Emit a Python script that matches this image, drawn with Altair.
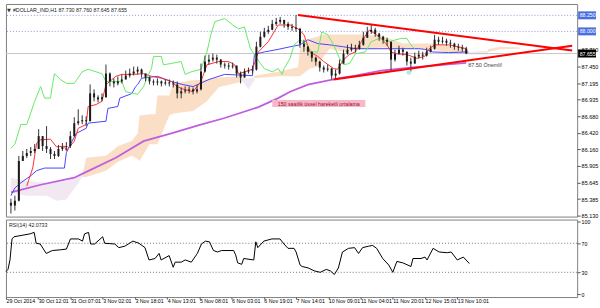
import altair as alt
import pandas as pd

# ---------------- data ----------------
# candles: one every second H1 bar (bar index = 2*k)
close = [85.285, 85.362, 85.981, 86.059, 86.105, 86.136, 86.167, 86.368, 86.213, 86.167,
         86.090, 86.059, 86.167, 86.198, 86.213, 86.368, 86.569, 86.600, 86.616, 86.600,
         87.034, 86.972, 86.941, 86.972, 87.343, 87.220, 87.189, 87.220, 87.251, 87.312,
         87.343, 87.374, 87.405, 87.343, 87.281, 87.220, 87.204, 87.220, 87.189, 87.204,
         87.189, 87.173, 87.034, 87.065, 87.080, 87.096, 87.065, 87.096, 87.374, 87.529,
         87.560, 87.591, 87.560, 87.483, 87.467, 87.452, 87.467, 87.343, 87.281, 87.374,
         87.390, 87.405, 87.761, 87.916, 87.994, 88.025, 88.117, 88.148, 88.179, 88.117,
         88.071, 88.056, 88.040, 87.808, 87.761, 87.684, 87.591, 87.529, 87.436, 87.405,
         87.421, 87.312, 87.343, 87.498, 87.653, 87.715, 87.746, 87.730, 87.792, 87.901,
         87.994, 88.025, 87.963, 87.916, 87.870, 87.839, 87.560, 87.653, 87.715, 87.684,
         87.529, 87.498, 87.607, 87.638, 87.622, 87.684, 87.730, 87.870, 87.839, 87.854,
         87.823, 87.808, 87.761, 87.746, 87.730, 87.655]
high = [85.393, 85.439, 86.059, 86.136, 86.167, 86.198, 86.244, 86.477, 86.368, 86.523,
        86.198, 86.136, 86.229, 86.260, 86.275, 86.446, 86.662, 86.786, 86.693, 86.678,
        87.173, 87.096, 87.003, 87.034, 87.483, 87.360, 87.266, 87.297, 87.328, 87.390,
        87.421, 87.452, 87.452, 87.421, 87.343, 87.297, 87.251, 87.266, 87.235, 87.251,
        87.251, 87.235, 87.220, 87.127, 87.142, 87.142, 87.127, 87.158, 87.498, 87.622,
        87.638, 87.653, 87.638, 87.570, 87.514, 87.514, 87.514, 87.467, 87.374, 87.421,
        87.436, 87.467, 87.839, 87.994, 88.056, 88.087, 88.179, 88.210, 88.226, 88.179,
        88.148, 88.117, 88.257, 88.056, 87.870, 87.777, 87.684, 87.607, 87.540, 87.467,
        87.483, 87.430, 87.405, 87.560, 87.715, 87.792, 87.808, 87.792, 87.854, 87.994,
        88.071, 88.102, 88.056, 87.978, 87.932, 87.901, 87.839, 87.715, 87.777, 87.746,
        87.684, 87.591, 87.669, 87.700, 87.684, 87.746, 87.777, 87.947, 87.916, 87.916,
        87.885, 87.870, 87.823, 87.808, 87.792, 87.760]
low = [85.161, 85.207, 85.350, 85.981, 86.028, 86.059, 86.105, 86.167, 86.136, 86.105,
       86.012, 86.012, 86.043, 86.136, 86.151, 86.182, 86.360, 86.539, 86.554, 86.523,
       86.600, 86.910, 86.895, 86.910, 86.972, 87.142, 87.127, 87.158, 87.189, 87.251,
       87.281, 87.312, 87.328, 87.281, 87.220, 87.173, 87.158, 87.158, 87.142, 87.158,
       87.142, 87.127, 86.956, 86.956, 87.034, 87.034, 87.018, 87.034, 87.080, 87.360,
       87.483, 87.529, 87.498, 87.436, 87.421, 87.405, 87.421, 87.281, 87.189, 87.281,
       87.343, 87.343, 87.390, 87.750, 87.901, 87.963, 88.020, 88.087, 88.117, 88.056,
       88.025, 88.009, 87.994, 87.746, 87.684, 87.622, 87.529, 87.467, 87.374, 87.359,
       87.374, 87.251, 87.251, 87.328, 87.498, 87.638, 87.684, 87.669, 87.715, 87.777,
       87.901, 87.963, 87.916, 87.854, 87.808, 87.777, 87.374, 87.529, 87.638, 87.622,
       87.467, 87.374, 87.498, 87.576, 87.560, 87.607, 87.669, 87.715, 87.792, 87.808,
       87.777, 87.746, 87.715, 87.700, 87.684, 87.645]
first_open = 85.330

# Ichimoku lines and EMA150 (bar index, price)
tenkan_bars = [8, 11, 13, 15, 20, 23, 27, 28, 32, 34, 38, 39, 43, 46, 48, 53, 56, 61, 67, 71,
               76, 81, 84, 87, 92, 96, 99, 105, 110, 113, 115, 122, 125, 130, 135, 141, 145, 148, 151, 155,
               158, 163, 165, 168, 171, 174, 177, 181, 184, 187, 190, 192, 195, 200, 205, 209, 211, 214, 221, 226, 230]
tenkan_vals = [85.59, 85.87, 86.26, 86.31, 86.32, 86.20, 86.21, 86.14, 86.29, 86.49, 86.55, 86.83, 86.86, 86.91, 87.17,
               87.30, 87.33, 87.33, 87.34, 87.30, 87.27, 87.22, 87.14, 87.10, 87.06, 87.22, 87.48, 87.53, 87.53, 87.48,
               87.34, 87.41, 87.68, 87.84, 88.10, 88.10, 88.04, 87.95, 87.68, 87.61, 87.53, 87.42, 87.41, 87.56, 87.64,
               87.68, 87.84, 88.02, 87.96, 87.89, 87.79, 87.68, 87.65, 87.64, 87.58, 87.61, 87.72, 87.79, 87.79, 87.76, 87.73]
kijun_bars = [0, 2, 5, 10, 13, 17, 27, 28, 30, 33, 38, 39, 48, 49, 54, 55, 61, 63, 64, 66, 74, 81, 87, 92, 100,
              108, 122, 123, 128, 135, 141, 146, 150, 155, 161, 168, 174, 188, 206, 209, 213, 221, 231]
kijun_vals = [85.44, 85.56, 85.64, 85.75, 85.83, 85.87, 85.87, 86.11, 86.24, 86.41, 86.49, 86.57, 86.60, 86.80, 86.83,
              86.96, 87.03, 87.14, 87.17, 87.27, 87.30, 87.22, 87.17, 87.14, 87.25, 87.33, 87.31, 87.64, 87.68, 87.72,
              87.76, 87.79, 87.87, 87.81, 87.79, 87.76, 87.73, 87.73, 87.73, 87.72, 87.68, 87.67, 87.68]
chikou_bars = [0, 2, 5, 8, 12, 15, 17, 20, 21, 22, 25, 28, 32, 36, 39, 46, 48, 56, 58, 64, 67, 69, 71, 72, 76, 77,
               81, 86, 88, 91, 96, 99, 101, 103, 108, 112, 115, 118, 119, 121, 123, 126, 128, 132, 135, 137, 138,
               141, 143, 146, 149, 152, 155, 157, 160, 163, 166, 168, 171, 174, 179, 182, 186, 191, 197, 200, 202, 204]
chikou_vals = [86.18, 86.24, 86.55, 86.55, 86.91, 87.14, 86.96, 86.96, 87.17, 87.34, 87.25, 87.19, 87.19, 87.37, 87.41,
               87.34, 87.22, 87.22, 87.06, 87.02, 87.14, 87.30, 87.42, 87.61, 87.61, 87.48, 87.50, 87.53, 87.33, 87.37,
               87.41, 87.68, 87.95, 88.15, 88.20, 88.10, 88.04, 88.07, 87.95, 87.73, 87.64, 87.50, 87.42, 87.37, 87.42,
               87.33, 87.42, 87.58, 87.79, 87.87, 87.81, 87.68, 87.68, 87.99, 87.95, 87.79, 87.58, 87.48, 87.50, 87.65,
               87.68, 87.84, 87.89, 87.84, 87.89, 87.89, 87.79, 87.73]
ema_bars = [0, 15, 32, 36, 53, 67, 81, 95, 108, 125, 135, 141, 150, 158, 166, 174, 187, 203, 215, 230]
ema_vals = [85.49, 85.61, 85.72, 85.78, 86.03, 86.29, 86.41, 86.54, 86.65, 86.82, 86.96, 87.06, 87.17, 87.22,
            87.27, 87.31, 87.39, 87.44, 87.47, 87.51]

# Kumo (cloud) segments: bar, upper span, lower span
cloud_seg = [1] * 7 + [2] * 16 + [3] * 3 + [4] * 15 + [5] * 2 + [6] * 3
cloud_kind = ["B"] * 7 + ["A"] * 16 + ["B"] * 3 + ["A"] * 15 + ["B"] * 2 + ["A"] * 3
cloud_bars = [0, 8, 18, 23, 28, 33, 36,
              36, 38, 48, 54, 61, 64, 65, 70, 73, 74, 80, 82, 92, 99, 105, 117,
              117, 120, 123,
              123, 135, 145, 146, 151, 155, 158, 161, 169, 176, 188, 198, 213, 220, 230,
              230, 241,
              241, 247, 257]
cloud_top = [85.72, 85.67, 85.64, 85.66, 85.67, 85.72, 85.75,
             85.75, 86.03, 86.06, 86.21, 86.29, 86.41, 86.69, 86.71, 86.71, 87.00, 87.00, 87.19, 87.24, 87.25, 87.28, 87.30,
             87.27, 87.27, 87.28,
             87.31, 87.37, 87.44, 87.73, 87.89, 87.92, 87.95, 87.95, 87.95, 87.95, 87.93, 87.81, 87.81, 87.78, 87.72,
             87.68, 87.70,
             87.72, 87.76, 87.75]
cloud_bot = [85.49, 85.44, 85.44, 85.36, 85.38, 85.59, 85.73,
             85.73, 85.73, 85.83, 85.97, 86.06, 86.01, 85.98, 86.24, 86.24, 86.24, 86.69, 86.72, 86.76, 86.91, 87.13, 87.22,
             87.22, 87.10, 87.24,
             87.27, 87.30, 87.30, 87.30, 87.42, 87.45, 87.61, 87.73, 87.68, 87.72, 87.75, 87.73, 87.72, 87.68, 87.65,
             87.64, 87.64,
             87.68, 87.72, 87.73]

# trend lines of the triangle
trend_id = ["up", "up", "dn", "dn"]
trend_bars = [145, 283.5, 163, 283.5]
trend_vals = [88.257, 87.703, 87.251, 87.777]

# RSI(14)
rsi_bars = [0, 1, 2, 3, 4, 8, 12, 14, 15, 17, 20, 23, 27, 30, 32, 36, 38, 39, 41, 42, 44, 48, 49, 54, 56,
            59, 63, 66, 69, 71, 74, 76, 77, 81, 83, 84, 87, 89, 92, 95, 97, 99, 101, 103, 105, 107, 113, 114,
            115, 117, 118, 123, 124, 125, 128, 132, 136, 138, 140, 143, 144, 146, 147, 150, 153, 156, 159, 161,
            163, 165, 167, 170, 173, 175, 177, 180, 182, 184, 187, 190, 192, 194, 197, 201, 202, 206, 208, 209,
            212, 215, 219, 221, 224, 227, 230]
rsi_vals = [31, 34, 47, 76, 79, 81, 83, 85, 70, 69, 56, 60, 61, 62, 76, 76, 73, 83, 85, 69, 69, 79, 70, 69, 64,
            66, 73, 70, 64, 47, 49, 56, 47, 53, 37, 44, 44, 47, 44, 56, 69, 73, 72, 60, 58, 60, 60, 54,
            43, 41, 49, 47, 72, 64, 73, 76, 76, 69, 63, 63, 58, 40, 38, 36, 32, 30, 34, 32,
            27, 36, 58, 63, 64, 56, 64, 66, 67, 63, 49, 40, 30, 45, 43, 38, 49, 49, 51, 47,
            63, 58, 57, 58, 47, 51, 42.07]

# axis labels
x_label_bars = [0, 16, 32, 48, 64, 80, 96, 112, 128, 144, 160, 176, 192, 208, 224]
x_labels = ["29 Oct 2014", "30 Oct 12:01", "31 Oct 07:01", "3 Nov 02:01", "3 Nov 18:01", "4 Nov 13:01",
            "5 Nov 08:01", "6 Nov 03:01", "6 Nov 19:01", "7 Nov 14:01", "10 Nov 09:01", "11 Nov 04:01",
            "11 Nov 20:01", "12 Nov 15:01", "13 Nov 10:01"]
price_ticks = [85.130, 85.385, 85.645, 85.905, 86.160, 86.420, 86.680, 86.935, 87.195, 87.450, 87.710]
dotted_levels = [88.250, 88.000]
bid_level = 87.655
box_prices = [88.250, 88.000, 87.655]
box_texts = ["88.250", "88.000", "87.655"]
box_kind = ["lvl", "lvl", "bid"]

title_text = "#DOLLAR_IND,H1  87.730 87.760 87.645 87.655"
rsi_text = "RSI(14) 42.0733"
ema_note = "150 saatlik üssel hareketli ortalama"
level_note = "87.50 Önemli!"

# ---------------- layout ----------------
W, H_MAIN, H_RSI = 575, 214, 78
FONT = "Liberation Sans"
xs = alt.Scale(domain=[0, 283.5], nice=False, zero=False)
ys = alt.Scale(domain=[85.114, 88.427], nice=False, zero=False)
rs = alt.Scale(domain=[-4.1, 102.7], nice=False, zero=False)

yaxis = alt.Axis(orient="right", values=price_ticks, format=".3f", title=None, grid=False, domain=False,
                 tickSize=3, tickColor="#555", labelFontSize=5.5, labelFont=FONT, labelColor="black",
                 labelPadding=1, labelOverlap=False)


def XF(field):
    return alt.X(field, scale=xs, axis=None)


def Y(field):
    return alt.Y(field, scale=ys, axis=yaxis)


X = XF("bar:Q")

opens = [first_open] + close[:-1]
cdf = pd.DataFrame({"bar": [2 * k for k in range(len(close))], "open": opens, "close": close,
                    "high": high, "low": low})
cdf["hi"] = cdf[["high", "open", "close"]].max(axis=1)
cdf["lo"] = cdf[["low", "open", "close"]].min(axis=1)

cloud_df = pd.DataFrame({"bar": cloud_bars, "top": cloud_top, "bot": cloud_bot,
                         "seg": cloud_seg, "kind": cloud_kind})
cloud = alt.Chart(cloud_df).mark_area(opacity=0.36, interpolate="linear").encode(
    x=X, y=Y("top:Q"), y2="bot:Q",
    color=alt.Color("kind:N", scale=alt.Scale(domain=["A", "B"], range=["#F4A460", "#D8BFD8"]), legend=None),
    detail="seg:N")

lv_df = pd.DataFrame({"p": dotted_levels})
dotted = alt.Chart(lv_df).mark_rule(color="#8896e6", strokeDash=[1, 2], strokeWidth=1).encode(y=Y("p:Q"))
bid = alt.Chart(pd.DataFrame({"p": [bid_level]})).mark_rule(color="#c8c8c8", strokeWidth=1).encode(y=Y("p:Q"))


def line_layer(bars, vals, color, width):
    d = pd.DataFrame({"bar": bars, "v": vals})
    return alt.Chart(d).mark_line(color=color, strokeWidth=width, clip=True).encode(x=X, y=Y("v:Q"))


ema = line_layer(ema_bars, ema_vals, "#c05ee0", 1.8)
kijun = line_layer(kijun_bars, kijun_vals, "#4646ff", 1)
tenkan = line_layer(tenkan_bars, tenkan_vals, "#ff3030", 1)
chikou = line_layer(chikou_bars, chikou_vals, "#66ea66", 1)

wick = alt.Chart(cdf).mark_rule(color="#333", strokeWidth=1).encode(x=X, y=Y("lo:Q"), y2="hi:Q")
body = alt.Chart(cdf).mark_bar(color="#1a1a1a", size=2).encode(x=X, y=Y("open:Q"), y2="close:Q")

tdf = pd.DataFrame({"id": trend_id, "bar": trend_bars, "v": trend_vals})
trend = alt.Chart(tdf).mark_line(color="#ff0000", strokeWidth=2, clip=True).encode(
    x=X, y=Y("v:Q"), detail="id:N")

# annotations
note_box = alt.Chart(pd.DataFrame({"b1": [132], "b2": [179], "p1": [86.93], "p2": [86.82]})).mark_rect(
    color="#f8b7c8").encode(x=XF("b1:Q"), x2="b2:Q", y=Y("p1:Q"), y2="p2:Q")
note_txt = alt.Chart(pd.DataFrame({"b": [155.5], "p": [86.875], "t": [ema_note]})).mark_text(
    fontSize=5.3, font=FONT, color="#9a1030", align="center", baseline="middle").encode(
    x=XF("b:Q"), y=Y("p:Q"), text="t:N")
lvl_txt = alt.Chart(pd.DataFrame({"b": [231], "p": [87.47], "t": [level_note]})).mark_text(
    fontSize=5.5, font=FONT, color="#444", align="left", baseline="middle").encode(
    x=XF("b:Q"), y=Y("p:Q"), text="t:N")
cyan = alt.Chart(pd.DataFrame({"b": [201], "p": [87.36]})).mark_point(
    shape="circle", filled=True, size=22, color="#9fe8f0", opacity=0.9).encode(x=XF("b:Q"), y=Y("p:Q"))

title = alt.Chart(pd.DataFrame({"t": [title_text]})).mark_text(
    fontSize=5.3, font=FONT, color="#222", align="left", baseline="middle").encode(
    x=alt.value(7), y=alt.value(6), text="t:N")
tri = alt.Chart(pd.DataFrame({"t": ["▼"]})).mark_text(
    fontSize=5, font="DejaVu Sans", color="#333", align="left", baseline="middle").encode(
    x=alt.value(1), y=alt.value(6), text="t:N")

bdf = pd.DataFrame({"p": box_prices, "t": box_texts, "k": box_kind})
boxes = alt.Chart(bdf).transform_calculate(lo="datum.p - 0.062", hi="datum.p + 0.062").mark_rect().encode(
    x=alt.value(W + 1), x2=alt.value(W + 19), y=Y("lo:Q"), y2="hi:Q",
    color=alt.Color("k:N", scale=alt.Scale(domain=["lvl", "bid"], range=["#4a6ee0", "#000000"]), legend=None))
box_txt = alt.Chart(bdf).mark_text(fontSize=5.3, font=FONT, color="white", align="left",
                                   baseline="middle").encode(x=alt.value(W + 2.5), y=Y("p:Q"), text="t:N")

main = alt.layer(cloud, dotted, bid, ema, kijun, tenkan, chikou, wick, body, trend,
                 note_box, note_txt, lvl_txt, cyan, title, tri, boxes, box_txt).resolve_scale(
    color="independent").properties(width=W, height=H_MAIN)

# ---------------- RSI panel ----------------
labels_js = "[" + ",".join("'" + s + "'" for s in x_labels) + "]"
xaxis = alt.Axis(values=x_label_bars, labelExpr=labels_js + "[round(datum.value / 16)]", title=None,
                 grid=False, domain=False, tickSize=2, tickColor="#555", labelAlign="left", labelFlush=False,
                 labelFontSize=5.3, labelFont=FONT, labelColor="black", labelPadding=0, labelOverlap=False)
raxis = alt.Axis(orient="right", values=[0, 30, 70, 100], format="d", title=None, grid=False, domain=False,
                 tickSize=3, tickColor="#555", labelFontSize=5.3, labelFont=FONT, labelColor="black",
                 labelPadding=1)
rdf = pd.DataFrame({"bar": rsi_bars, "rsi": rsi_vals})
rsi_line = alt.Chart(rdf).mark_line(color="black", strokeWidth=1).encode(
    x=alt.X("bar:Q", scale=xs, axis=xaxis), y=alt.Y("rsi:Q", scale=rs, axis=raxis))
rsi_lv = alt.Chart(pd.DataFrame({"l": [70, 30]})).mark_rule(color="#777", strokeDash=[1, 2]).encode(
    y=alt.Y("l:Q", scale=rs, axis=raxis))
rsi_title = alt.Chart(pd.DataFrame({"t": [rsi_text]})).mark_text(
    fontSize=5.3, font=FONT, color="#222", align="left", baseline="middle").encode(
    x=alt.value(3), y=alt.value(5), text="t:N")
rsi = alt.layer(rsi_lv, rsi_line, rsi_title).properties(width=W, height=H_RSI)

chart = alt.vconcat(main, rsi, spacing=3, bounds="flush").properties(
    padding={"left": 3, "top": 2, "right": 1, "bottom": 0}, background="white"
).configure_view(stroke="#808080", strokeWidth=1)

chart.save("out.html", embed_options={"renderer": "svg", "actions": False})
